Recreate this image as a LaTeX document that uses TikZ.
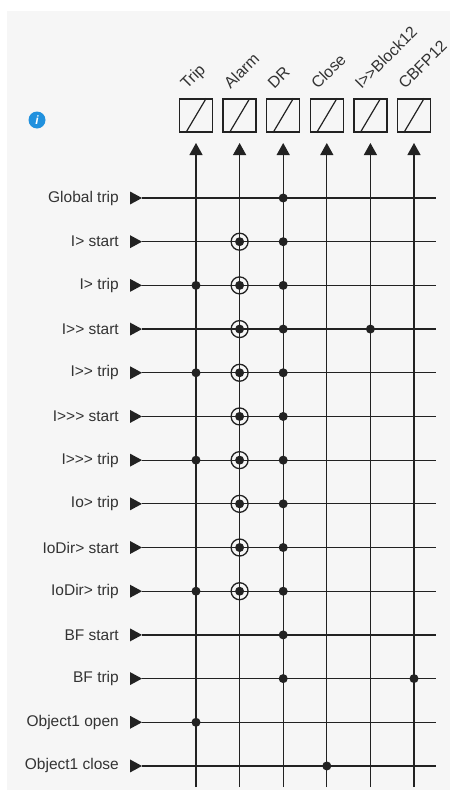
\documentclass[tikz,border=0pt]{standalone}
\usepackage{fontspec}
\setmainfont{Liberation Sans}
\usetikzlibrary{arrows.meta}
\definecolor{panel}{HTML}{F6F6F6}
\definecolor{ink}{HTML}{222222}
\definecolor{txt}{HTML}{333333}
\definecolor{infoblue}{RGB}{33,145,222}
\newcommand\gtsep{\kern0pt}
\begin{document}
\begin{tikzpicture}[x=1pt,y=-1pt,
  lbl/.style={anchor=east, inner sep=0, text=txt, font=\fontsize{15.5}{18}\selectfont},
  hdr/.style={rotate=45, anchor=base west, inner sep=0, text=txt, font=\fontsize{16}{18}\selectfont},
  sigbox/.style={draw=ink, line width=1.4pt, minimum size=33pt, inner sep=0},
  wire/.style={draw=ink, line width=1.2pt},
  dotc/.style={circle, fill=ink, inner sep=0, minimum size=9pt},
  ringc/.style={circle, draw=ink, line width=1.3pt, inner sep=0, minimum size=17pt},
  intri/.style={fill=ink}
]
\useasboundingbox (0,0) rectangle (450,790);
\fill[white] (0,0) rectangle (450,790);
\fill[panel] (7,11) rectangle (450,790);

% info icon
\node[circle, fill=infoblue, minimum size=17pt, inner sep=0, text=white,
      font=\bfseries\itshape\fontsize{12}{12}\selectfont] (info) at (37,120) {i};

% columns
\foreach \j/\t in {1/Trip,2/Alarm,3/DR,4/Close,5/I>\gtsep>Block12,6/CBFP12}{
  \pgfmathsetmacro\xx{196+(\j-1)*43.6}
  \coordinate (ct-\j) at (\xx,143);
  \coordinate (cb-\j) at (\xx,787);
  \node[sigbox] (box-\j) at (\xx,115.5) {};
  \draw[draw=ink, line width=1.2pt] ([xshift=7pt]box-\j.south west) -- ([xshift=-7pt]box-\j.north east);
  \node[hdr] (h-\j) at (\xx-9,90) {\t};
}

% rows
\foreach \i/\t in {1/Global trip,2/I> start,3/I> trip,4/I>\gtsep> start,5/I>\gtsep> trip,6/I>\gtsep>\gtsep> start,7/I>\gtsep>\gtsep> trip,8/Io> trip,9/IoDir> start,10/IoDir> trip,11/BF start,12/BF trip,13/Object1 open,14/Object1 close}{
  \pgfmathsetmacro\yy{198+(\i-1)*43.69}
  \node[lbl] (lab-\i) at (119,\yy) {\t};
  \coordinate (rl-\i) at (142,\yy);
  \coordinate (rr-\i) at (436,\yy);
  \fill[intri] ([xshift=-12pt,yshift=6.5pt]rl-\i) -- (rl-\i) -- ([xshift=-12pt,yshift=-6.5pt]rl-\i) -- cycle;
  \draw[wire] (rl-\i) -- (rr-\i);
}

% vertical lines with arrowheads
\foreach \j in {1,...,6}{
  \draw[wire,-{Triangle[width=13pt,length=12pt]}] (cb-\j) -- (ct-\j);
}

% alarm rings
\foreach \i in {2,...,10}{
  \node[ringc] (ring-\i) at (cb-2 |- rl-\i) {};
  \node[dotc] (adot-\i) at (cb-2 |- rl-\i) {};
}

% connection dots
\foreach \i/\j in {1/3,2/3,3/1,3/3,4/3,4/5,5/1,5/3,6/3,7/1,7/3,8/3,9/3,10/1,10/3,11/3,12/3,12/6,13/1,14/4}{
  \node[dotc] (dot-\i-\j) at (cb-\j |- rl-\i) {};
}
\end{tikzpicture}
\end{document}
